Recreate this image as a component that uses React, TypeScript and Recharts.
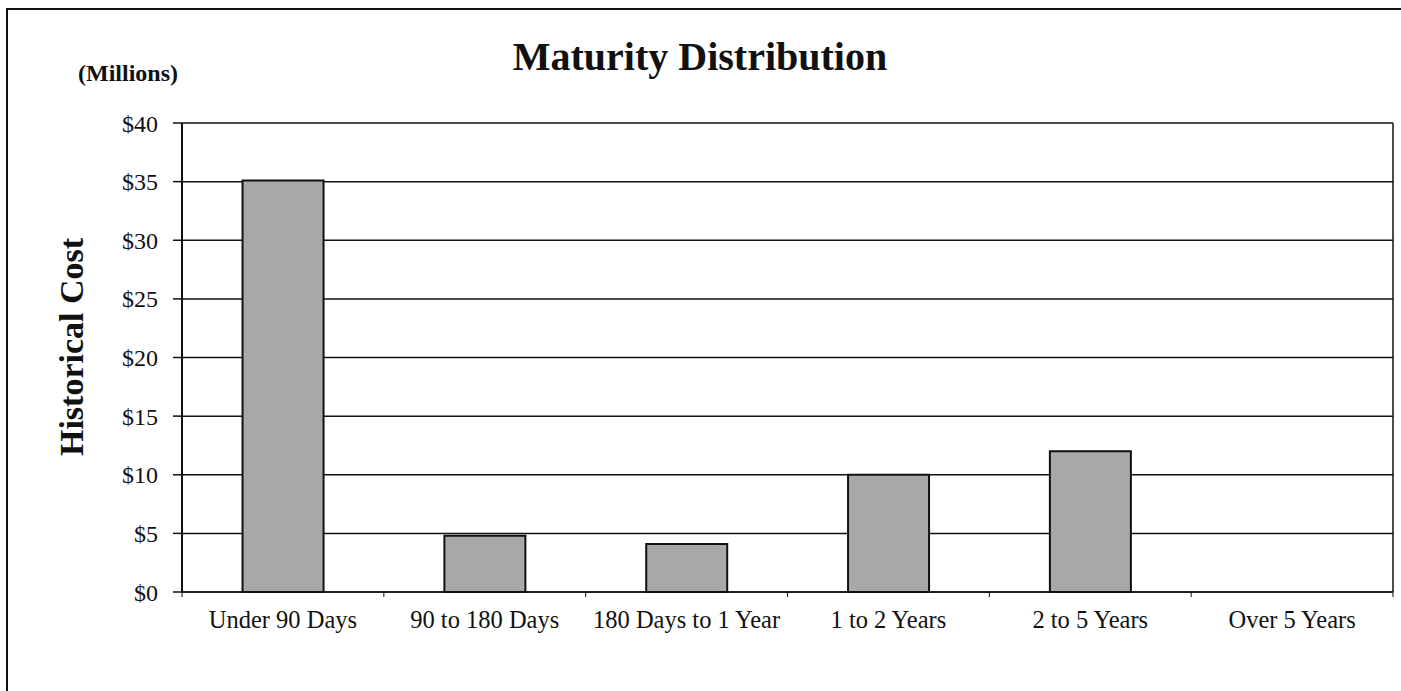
import React from "react";
import { BarChart, Bar, XAxis, YAxis, CartesianGrid } from "recharts";

const categories = ["Under 90 Days", "90 to 180 Days", "180 Days to 1 Year", "1 to 2 Years", "2 to 5 Years", "Over 5 Years"];
const values = [35.1, 4.8, 4.1, 10.0, 12.0, 0];
const yTicks = [0, 5, 10, 15, 20, 25, 30, 35, 40];

const title = "Maturity Distribution";
const unitLabel = "(Millions)";
const yLabel = "Historical Cost";

const data = categories.map((c, i) => ({ name: c, value: values[i] }));

const FONT = "'Liberation Serif', 'Times New Roman', serif";
const INK = "#111";

function CategoryTick(props: any) {
  const { x, y, payload, index, visibleTicksCount } = props;
  const half = payload && payload.offset ? payload.offset : 0;
  const axisY = y - 19;
  const isLast = index === (visibleTicksCount ?? categories.length) - 1;
  return (
    <g>
      <line x1={x - half} x2={x - half} y1={axisY} y2={axisY + 5} stroke={INK} strokeWidth={1} />
      {isLast ? <line x1={x + half} x2={x + half} y1={axisY} y2={axisY + 5} stroke={INK} strokeWidth={1} /> : null}
      <text x={x} y={y} dy="0.71em" textAnchor="middle" fill={INK} fontSize={24.5} fontFamily={FONT}>
        {payload.value}
      </text>
    </g>
  );
}

export default function App() {
  return (
    <div style={{ position: "absolute", left: 0, top: 0, width: 1401, height: 691, overflow: "hidden", background: "#fff", fontFamily: FONT }}>
      <div style={{ position: "absolute", left: 0, top: 0 }}>
        <BarChart width={1401} height={691} data={data} margin={{ top: 123, right: 8, bottom: 59, left: 0 }} barCategoryGap="30%">
          <CartesianGrid
            stroke={INK}
            strokeWidth={1.5}
            verticalCoordinatesGenerator={({ offset }: any) => [offset.left + offset.width]}
          />
          <XAxis dataKey="name" height={40} axisLine={{ stroke: INK, strokeWidth: 1.5 }} tickLine={false} tickSize={6} tickMargin={13} tick={<CategoryTick />} interval={0} />
          <YAxis domain={[0, 40]} ticks={yTicks} width={182} axisLine={{ stroke: INK, strokeWidth: 2 }} tickLine={{ stroke: INK, strokeWidth: 1.5 }} tickSize={9} tickMargin={15} tickFormatter={(v) => `$${v}`} tick={{ fill: INK, fontSize: 24, fontFamily: FONT }} />
          <Bar dataKey="value" fill="#a8a8a8" stroke={INK} strokeWidth={2} isAnimationActive={false} />
        </BarChart>
      </div>
      <svg width={1401} height={691} style={{ position: "absolute", left: 0, top: 0, pointerEvents: "none" }}>
        <line x1={7} y1={9} x2={1401} y2={9} stroke={INK} strokeWidth={2} />
        <line x1={7} y1={8} x2={7} y2={691} stroke={INK} strokeWidth={2} />
        <text x={700} y={70} textAnchor="middle" fontFamily={FONT} fontWeight="bold" fontSize={40} fill={INK}>{title}</text>
        <text x={78} y={81} textAnchor="start" fontFamily={FONT} fontWeight="bold" fontSize={24} fill={INK}>{unitLabel}</text>
        <text x={0} y={0} transform="translate(83, 347) rotate(-90)" textAnchor="middle" fontFamily={FONT} fontWeight="bold" fontSize={34} fill={INK}>{yLabel}</text>
      </svg>
    </div>
  );
}
